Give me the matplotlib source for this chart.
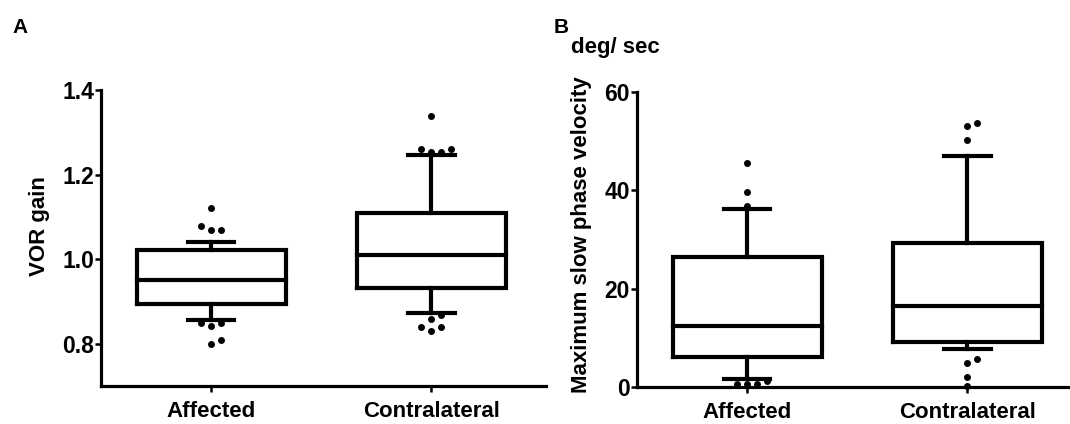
import matplotlib
matplotlib.use('Agg')
import matplotlib.pyplot as plt

# ---------------- data ----------------
groups = ['Affected', 'Contralateral']

# Panel A: VOR gain
vor_q1 = [0.893, 0.931]
vor_med = [0.951, 1.010]
vor_q3 = [1.021, 1.110]
vor_whislo = [0.855, 0.873]
vor_whishi = [1.041, 1.247]
vor_out_affected = [1.12, 1.069, 1.069, 1.079, 0.841, 0.850, 0.850, 0.800, 0.809]
vor_out_contra = [1.339, 1.253, 1.253, 1.260, 1.260, 0.859, 0.830, 0.839, 0.839, 0.869]

# Panel B: maximum slow phase velocity (deg/sec)
spv_q1 = [6.1, 9.1]
spv_med = [12.5, 16.55]
spv_q3 = [26.35, 29.3]
spv_whislo = [1.7, 7.8]
spv_whishi = [36.2, 47.0]
spv_out_affected = [45.5, 39.75, 36.8, 0.6, 0.6, 0.6, 1.3]
spv_out_contra = [50.3, 53.1, 53.7, 4.8, 5.65, 2.1, 0.2]

# ---------------- figure ----------------
W, H = 1070, 424
fig = plt.figure(figsize=(W / 100, H / 100), dpi=100)
fig.patch.set_facecolor('white')


def axrect(x0, y_top, x1, y_bot):
    return [x0 / W, 1 - y_bot / H, (x1 - x0) / W, (y_bot - y_top) / H]


axA = fig.add_axes(axrect(101, 90, 546, 386))
axB = fig.add_axes(axrect(637, 92, 1082, 387))

narrow = ['Liberation Sans Narrow', 'Liberation Sans', 'DejaVu Sans']
sans = ['Liberation Sans', 'DejaVu Sans']


def swarm_x(ax, x, values, step_px=10.0, diam_px=7.0):
    placed = []
    xs = []
    cx, _ = ax.transData.transform((x, 0))
    inv = ax.transData.inverted()
    for v in values:
        _, py = ax.transData.transform((x, v))
        px = cx
        for k in [0, 1, -1, 2, -2, 3, -3]:
            px = cx + k * step_px
            if all((px - qx) ** 2 + (py - qy) ** 2 >= diam_px ** 2 for qx, qy in placed):
                break
        placed.append((px, py))
        xs.append(inv.transform((px, py))[0])
    return xs


def panel(ax, q1, med, q3, lo, hi, outs, ylim, yticks, fmt):
    ax.set_xlim(0.5, 2.52)
    ax.set_ylim(*ylim)
    stats = []
    for i in range(len(groups)):
        stats.append(dict(med=med[i], q1=q1[i], q3=q3[i],
                          whislo=lo[i], whishi=hi[i], fliers=[]))
    lp = dict(color='black', linewidth=3.0, solid_capstyle='projecting',
              solid_joinstyle='miter')
    ax.bxp(stats, positions=[1, 2], widths=0.676, capwidths=0.21,
           showfliers=False, boxprops=lp, medianprops=lp,
           whiskerprops=dict(color='black', linewidth=3.0),
           capprops=dict(color='black', linewidth=3.0), manage_ticks=False)
    for pos, vals in zip([1, 2], outs):
        xs = swarm_x(ax, pos, vals)
        ax.plot(xs, vals, 'o', color='black', markersize=5.0,
                markeredgewidth=0, clip_on=False, zorder=2.2)
    for s in ['top', 'right']:
        ax.spines[s].set_visible(False)
    for s in ['left', 'bottom']:
        ax.spines[s].set_linewidth(2.3)
    ax.set_yticks(yticks)
    ax.set_yticklabels([fmt.format(t) for t in yticks])
    ax.set_xticks([1, 2])
    ax.set_xticklabels(groups)
    ax.tick_params(axis='y', length=4.3, width=1.8, pad=0.8, labelsize=16.5)
    ax.tick_params(axis='x', length=4.5, width=1.8, pad=6, labelsize=16)
    for t in ax.get_yticklabels():
        t.set_fontweight('bold')
        t.set_fontfamily(narrow)
    for t in ax.get_xticklabels():
        t.set_fontweight('bold')
        t.set_fontfamily(sans)


panel(axA, vor_q1, vor_med, vor_q3, vor_whislo, vor_whishi,
      [vor_out_affected, vor_out_contra], (0.7, 1.4),
      [0.8, 1.0, 1.2, 1.4], '{:.1f}')
panel(axB, spv_q1, spv_med, spv_q3, spv_whislo, spv_whishi,
      [spv_out_affected, spv_out_contra], (0, 60),
      [0, 20, 40, 60], '{:.0f}')

# labels
fig.text(40 / W, 1 - 226 / H, 'VOR gain', rotation=90, ha='center', va='center',
         fontsize=16, fontweight='bold', family=sans)
fig.text(581 / W, 1 - 235 / H, 'Maximum slow phase velocity', rotation=90,
         ha='center', va='center', fontsize=16, fontweight='bold', family=sans)
fig.text(571 / W, 1 - 53 / H, 'deg/ sec', ha='left', va='baseline',
         fontsize=16, fontweight='bold', family=sans)
fig.text(12 / W, 1 - 33 / H, 'A', ha='left', va='baseline',
         fontsize=15, fontweight='bold', family=sans)
fig.text(554 / W, 1 - 33 / H, 'B', ha='left', va='baseline',
         fontsize=15, fontweight='bold', family=sans)

fig.savefig('out.png', dpi=100, facecolor='white')
